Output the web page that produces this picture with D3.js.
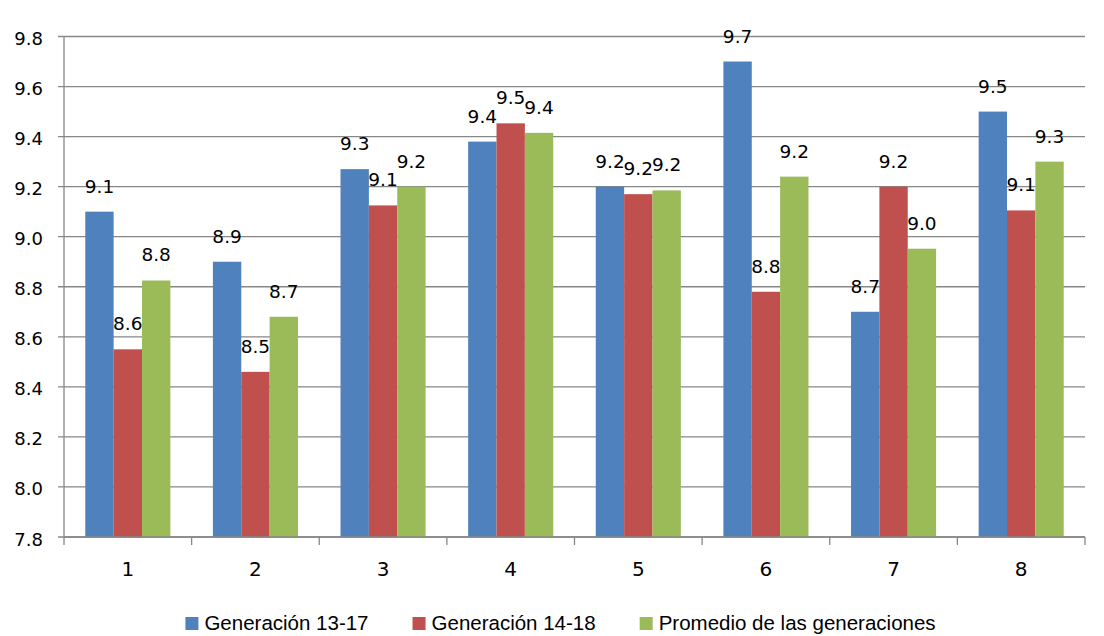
<!DOCTYPE html>
<html>
<head>
<meta charset="utf-8">
<script src="https://cdnjs.cloudflare.com/ajax/libs/d3/7.8.5/d3.min.js"></script>
<style>
  body { margin: 0; background: #fff; }
  svg { display: block; }
</style>
</head>
<body>
<div id="chart"></div>
<script>
// Chart data
const categories = ['1', '2', '3', '4', '5', '6', '7', '8'];
const seriesNames = ['Generación 13-17', 'Generación 14-18', 'Promedio de las generaciones'];
const gen1317 = [9.10, 8.90, 9.27, 9.38, 9.20, 9.70, 8.70, 9.50];
const gen1418 = [8.55, 8.46, 9.125, 9.453, 9.17, 8.78, 9.20, 9.105];
const promedio = [8.825, 8.68, 9.20, 9.415, 9.185, 9.24, 8.952, 9.30];
const yTicks = [7.8, 8.0, 8.2, 8.4, 8.6, 8.8, 9.0, 9.2, 9.4, 9.6, 9.8];
const colors = ['#4F81BD', '#C0504D', '#9BBB59'];

const seriesValues = [gen1317, gen1418, promedio];

const W = 1104, H = 636;
const plotLeft = 64, plotRight = 1085, plotTop = 36.5, plotBottom = 537;

const svg = d3.select('#chart').append('svg')
    .attr('width', W)
    .attr('height', H);

const x = d3.scaleBand()
    .domain(categories)
    .range([plotLeft, plotRight])
    .padding(0);

// gap between groups is 1.5 bar widths
const barW = x.bandwidth() / 4.5;
const xs = d3.scaleBand()
    .domain(d3.range(seriesNames.length))
    .range([barW * 0.75, x.bandwidth() - barW * 0.75]);

const y = d3.scaleLinear()
    .domain([7.8, 9.8])
    .range([plotBottom, plotTop]);

const grey = '#878787';

/* ------------------------------- gridlines ------------------------------- */
svg.append('g')
    .selectAll('line')
    .data(yTicks)
    .enter()
    .append('line')
    .attr('x1', plotLeft - 6)
    .attr('x2', plotRight)
    .attr('y1', d => y(d))
    .attr('y2', d => y(d))
    .attr('stroke', grey)
    .attr('stroke-width', 1.3);

// y axis line
svg.append('line')
    .attr('x1', plotLeft).attr('x2', plotLeft)
    .attr('y1', plotTop).attr('y2', plotBottom)
    .attr('stroke', grey)
    .attr('stroke-width', 1.3);

// y tick labels
svg.append('g')
    .selectAll('text')
    .data(yTicks)
    .enter()
    .append('text')
    .attr('x', 43)
    .attr('y', d => y(d) + 8.5)
    .attr('text-anchor', 'end')
    .style('font-family', 'DejaVu Sans')
    .style('font-size', '18px')
    .attr('fill', '#000')
    .text(d => d.toFixed(1));

/* --------------------------------- bars ---------------------------------- */
const groups = svg.append('g')
    .selectAll('g')
    .data(categories)
    .enter()
    .append('g')
    .attr('transform', d => `translate(${x(d)},0)`);

groups.selectAll('rect')
    .data((c, i) => seriesValues.map((vals, s) => ({ s, v: vals[i] })))
    .enter()
    .append('rect')
    .attr('x', d => xs(d.s))
    .attr('width', xs.bandwidth())
    .attr('y', d => y(d.v))
    .attr('height', d => plotBottom - y(d.v))
    .attr('fill', d => colors[d.s]);

// data labels
groups.selectAll('text')
    .data((c, i) => seriesValues.map((vals, s) => ({ s, v: vals[i] })))
    .enter()
    .append('text')
    .attr('x', d => xs(d.s) + xs.bandwidth() / 2)
    .attr('y', d => y(d.v) - 19)
    .attr('text-anchor', 'middle')
    .style('font-family', 'DejaVu Sans')
    .style('font-size', '18.5px')
    .attr('fill', '#000')
    .text(d => d.v.toFixed(1));

/* -------------------------------- x axis --------------------------------- */
svg.append('line')
    .attr('x1', plotLeft).attr('x2', plotRight)
    .attr('y1', plotBottom).attr('y2', plotBottom)
    .attr('stroke', grey)
    .attr('stroke-width', 1.3);

const boundaries = categories.map(c => x(c)).concat([plotRight]);
svg.append('g')
    .selectAll('line')
    .data(boundaries)
    .enter()
    .append('line')
    .attr('x1', d => d).attr('x2', d => d)
    .attr('y1', plotBottom).attr('y2', plotBottom + 8)
    .attr('stroke', grey)
    .attr('stroke-width', 1.3);

svg.append('g')
    .selectAll('text')
    .data(categories)
    .enter()
    .append('text')
    .attr('x', d => x(d) + x.bandwidth() / 2)
    .attr('y', 576)
    .attr('text-anchor', 'middle')
    .style('font-family', 'DejaVu Sans')
    .style('font-size', '20px')
    .attr('fill', '#000')
    .text(d => d);

/* -------------------------------- legend --------------------------------- */
const legend = svg.append('g');
const items = [];
let lx = 0;
seriesNames.forEach((name, i) => {
    const sq = legend.append('rect')
        .attr('x', lx)
        .attr('y', 617)
        .attr('width', 13)
        .attr('height', 13)
        .attr('fill', colors[i]);
    const t = legend.append('text')
        .attr('x', lx + 19)
        .attr('y', 630)
        .style('font-family', '"Liberation Sans", Arial, sans-serif')
        .style('font-size', '20.5px')
        .attr('fill', '#000')
        .text(name);
    lx += 19 + t.node().getComputedTextLength() + 44;
});
// centre the legend like the reference (spans about 169..952)
const legendW = lx - 44;
legend.attr('transform', `translate(${560.5 - legendW / 2},0)`);
</script>
</body>
</html>
